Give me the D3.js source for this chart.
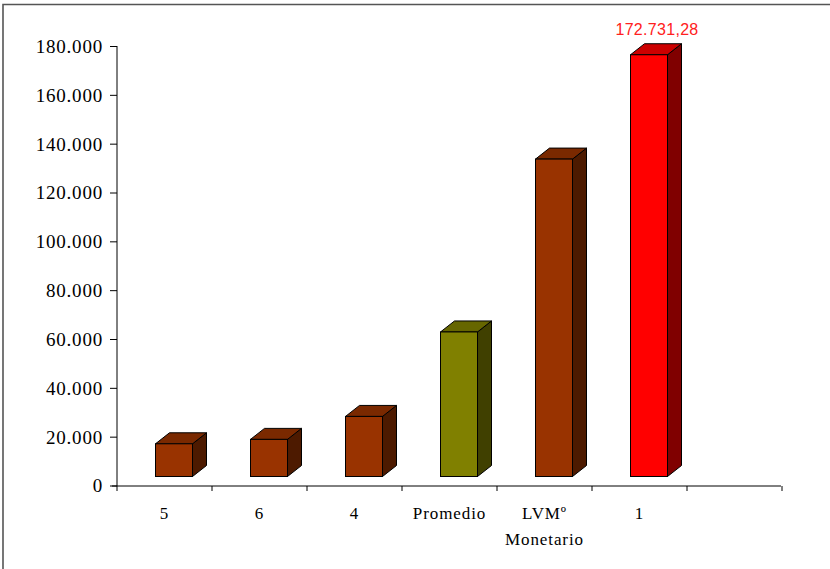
<!DOCTYPE html>
<html>
<head>
<meta charset="utf-8">
<script src="https://cdn.jsdelivr.net/npm/d3@7"></script>
<style>
  html, body { margin: 0; padding: 0; background: #fff; }
  svg { display: block; }
</style>
</head>
<body>
<svg id="chart" width="830" height="569"></svg>
<script>
// Category labels (last slot left empty on purpose)
const categories = ["5", "6", "4", "Promedio", "LVMº\nMonetario", "1", ""];
// Values per category
const values = [13400, 15200, 24600, 59200, 130000, 172731.28, null];
// Colour key per bar
const colorKeys = ["brown", "brown", "brown", "olive", "brown", "red", null];
// Y-axis tick values
const yTicks = [0, 20000, 40000, 60000, 80000, 100000, 120000, 140000, 160000, 180000];
// Value shown above the highlighted bar
const highlightLabel = "172.731,28";

const serif = "'Liberation Serif', 'Times New Roman', Times, serif";

const palette = {
  brown: { front: "#993300", top: "#7a2900", side: "#4d1a00" },
  olive: { front: "#808000", top: "#666600", side: "#404000" },
  red:   { front: "#ff0000", top: "#cc0000", side: "#800000" }
};

const svg = d3.select("#chart");

// frame
svg.append("path")
  .attr("d", "M3,569 L3,4.5 L830,4.5")
  .attr("fill", "none").attr("stroke", "#555").attr("stroke-width", 1.6);

const x = d3.scaleBand().domain(d3.range(categories.length)).range([117, 782]).padding(0);
const y = d3.scaleLinear().domain([0, 180000]).range([485.5, 46]);

const fmt = v => d3.format(",")(v).replace(/,/g, ".");

// Y axis
const yAxis = d3.axisLeft(y).tickValues(yTicks).tickFormat(fmt).tickSize(7).tickPadding(7);
const gy = svg.append("g").attr("transform", "translate(117,0)").call(yAxis);
gy.attr("font-family", null).attr("font-size", null);
gy.select(".domain").attr("stroke", "#000").attr("d", "M0,46V486");
gy.selectAll(".tick line").attr("stroke", "#000");
gy.selectAll(".tick text")
  .attr("fill", "#000")
  .style("font-family", serif).style("font-size", "19px").style("letter-spacing", "0.8px")
  .attr("dy", "0.34em");

// X axis line with boundary ticks
const gx = svg.append("g");
gx.append("line").attr("x1", 112).attr("x2", 781).attr("y1", 486).attr("y2", 486)
  .attr("stroke", "#000");
d3.range(categories.length + 1).forEach(i => {
  const px = Math.round(117 + i * x.bandwidth());
  gx.append("line").attr("x1", px).attr("x2", px).attr("y1", 486).attr("y2", 491)
    .attr("stroke", "#000");
});

// Category labels
categories.forEach((c, i) => {
  const lines = c.split("\n");
  const t = svg.append("text")
    .attr("x", x(i) + x.bandwidth() / 2)
    .attr("y", 519)
    .attr("text-anchor", "middle")
    .style("font-family", serif)
    .style("font-size", "17px").style("letter-spacing", "0.9px");
  lines.forEach((l, j) => {
    t.append("tspan").attr("x", x(i) + x.bandwidth() / 2).attr("dy", j === 0 ? 0 : 26).text(l);
  });
});

// 3D bars
const depthX = 14, depthY = -11, lift = 9, faceOffset = 38.5, faceWidth = 37;
const bars = svg.append("g");
values.forEach((v, i) => {
  if (v == null) return;
  const col = palette[colorKeys[i]];
  const x0 = x(i) + faceOffset, x1 = x0 + faceWidth;
  const yb = y(0) - lift, yt = y(v) - lift;
  // side face
  bars.append("path")
    .attr("d", `M${x1},${yb} L${x1 + depthX},${yb + depthY} L${x1 + depthX},${yt + depthY} L${x1},${yt} Z`)
    .attr("fill", col.side).attr("stroke", "#000").attr("stroke-width", 1).attr("stroke-linejoin", "round");
  // top face
  bars.append("path")
    .attr("d", `M${x0},${yt} L${x0 + depthX},${yt + depthY} L${x1 + depthX},${yt + depthY} L${x1},${yt} Z`)
    .attr("fill", col.top).attr("stroke", "#000").attr("stroke-width", 1).attr("stroke-linejoin", "round");
  // front face
  bars.append("rect")
    .attr("x", x0).attr("y", yt).attr("width", faceWidth).attr("height", yb - yt)
    .attr("fill", col.front).attr("stroke", "#000").attr("stroke-width", 1);
});

// Value label over the highest bar
const hi = values.indexOf(d3.max(values));
svg.append("text")
  .attr("x", x(hi) + faceOffset + faceWidth / 2 + 8)
  .attr("y", 35)
  .attr("text-anchor", "middle")
  .attr("fill", "#ff2020")
  .style("font-family", "'Liberation Sans Narrow', 'Liberation Sans', sans-serif")
  .style("font-size", "16px")
  .style("letter-spacing", "0.3px")
  .text(highlightLabel);
</script>
</body>
</html>
